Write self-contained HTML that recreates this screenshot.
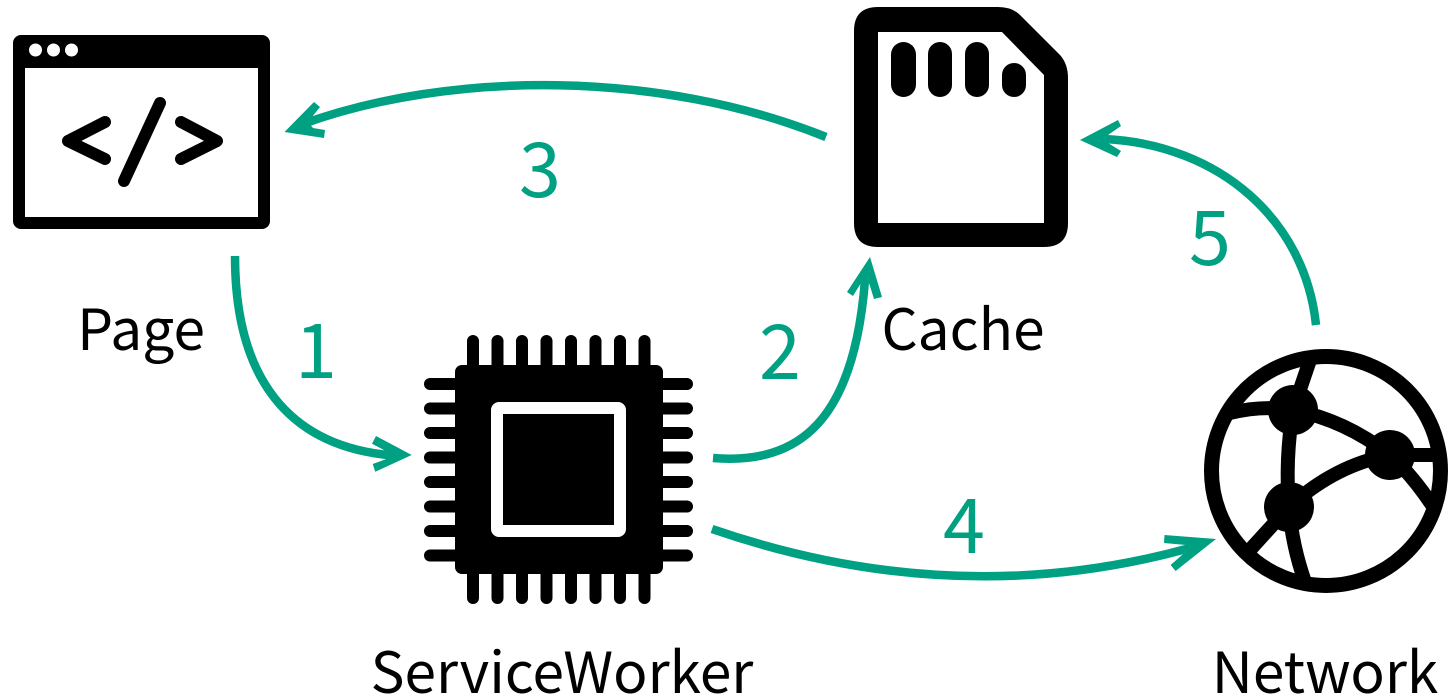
<!DOCTYPE html>
<html><head><meta charset="utf-8"><style>
html,body{margin:0;padding:0;background:#fff;width:1453px;height:700px;overflow:hidden}
svg{display:block}
text{font-family:"Noto Sans CJK JP","Liberation Sans",sans-serif}
.l{font-size:56.800px;fill:#000;text-anchor:middle}
.n{font-size:75.500px;fill:#00a082;text-anchor:middle}
.a{fill:none;stroke:#00a082;stroke-width:8.500}
.h{fill:#00a082}
</style></head><body>
<svg width="1453" height="700" viewBox="0 0 1453 700" xmlns="http://www.w3.org/2000/svg">
<!-- Page -->
<path fill-rule="evenodd" d="M21 35H262a8 8 0 0 1 8 8V221a8 8 0 0 1-8 8H21a8 8 0 0 1-8-8V43a8 8 0 0 1 8-8ZM25 68V217H258V68Z"/>
<g fill="#fff"><circle cx="35.500" cy="50" r="6.500"/><circle cx="53.500" cy="50" r="6.500"/><circle cx="71.500" cy="50" r="6.500"/></g>
<g fill="none" stroke="#000" stroke-width="12" stroke-linecap="round" stroke-linejoin="round">
<path d="M105 122L68 141L105 159"/><path d="M160 103L124 181"/><path d="M181 122L217 141L181 159"/>
</g>
<!-- Cache -->
<path fill-rule="evenodd" d="M878 7H998Q1012 7 1020 15L1060 55Q1068 64 1068 78V223Q1068 247 1044 247H878Q854 247 854 223V31Q854 7 878 7ZM878 32V223H1044V75L1002 32Z"/>
<g><rect x="891" y="42" width="25" height="55" rx="12.500"/><rect x="928" y="42" width="24" height="55" rx="12"/><rect x="965" y="42" width="24" height="55" rx="12"/><rect x="1002" y="63" width="24" height="34" rx="12"/></g>
<!-- Chip -->
<rect x="455" y="365" width="208" height="209" rx="7"/>
<g stroke="#000" stroke-width="12" stroke-linecap="round">
<path d="M473 341V380M497.500 341V380M522 341V380M546.500 341V380M571 341V380M595.500 341V380M620 341V380M644.500 341V380"/>
<path d="M473 598V560M497.500 598V560M522 598V560M546.500 598V560M571 598V560M595.500 598V560M620 598V560M644.500 598V560"/>
<path d="M430 384H470M430 408.500H470M430 433H470M430 457.500H470M430 482H470M430 506.500H470M430 531H470M430 555.500H470"/>
<path d="M687 384H650M687 408.500H650M687 433H650M687 457.500H650M687 482H650M687 506.500H650M687 531H650M687 555.500H650"/>
</g>
<rect x="497" y="408" width="123" height="123" rx="2" fill="#000" stroke="#fff" stroke-width="12" stroke-linejoin="round"/>
<!-- Network -->
<circle cx="1326" cy="471" r="114.500" fill="none" stroke="#000" stroke-width="15"/>
<g fill="none" stroke="#000" stroke-width="14">
<path d="M1293 410L1310 360"/>
<path d="M1293 410Q1262 405 1230 413"/>
<path d="M1293 410Q1285 460 1289 507"/>
<path d="M1293 410Q1345 420 1390 455"/>
<path d="M1289 507Q1335 465 1390 455"/>
<path d="M1390 455H1436"/>
<path d="M1390 455Q1412 475 1432 505"/>
<path d="M1289 507L1248 552"/>
<path d="M1289 507Q1292 545 1305 582"/>
</g>
<g><circle cx="1293" cy="410" r="25"/><circle cx="1390" cy="455" r="25"/><circle cx="1289" cy="507" r="25"/></g>
<!-- Arrows -->
<path class="a" d="M235 256C235 380 290 445 388 455"/>
<polygon class="h" points="411.700,455 376,436 372,443.700 385.700,451 385.700,459.300 372.700,464 375.300,471.700"/>
<path class="a" d="M713 458C800 465 854 420 865 280"/>
<polygon class="h" points="870,257 847,292 853,296 861,283 869,283 874,299 882,297"/>
<path class="a" d="M826 137C660 70 450 70 300 125"/>
<polygon class="h" points="284.500,132 314,102 320,107 308,122 313,128 325,130 324,138"/>
<path class="a" d="M712 529C860 580 1020 595 1190 548"/>
<polygon class="h" points="1216,539 1164.500,535 1164,543 1186,545 1185.500,552 1170.600,565 1175.600,571"/>
<path class="a" d="M1316 325C1305 220 1220 145 1105 139"/>
<polygon class="h" points="1080,140 1118,120 1121,126 1108,135 1108,143 1121,151 1117,157"/>
<!-- Labels -->
<text class="l" x="141" y="350">Page</text>
<text class="l" x="963" y="350">Cache</text>
<text class="l" x="562" y="693">ServiceWorker</text>
<text class="l" x="1325" y="693">Network</text>
<text class="n" x="316" y="378">1</text>
<text class="n" x="780" y="379">2</text>
<text class="n" x="540" y="197">3</text>
<text class="n" x="964" y="553">4</text>
<text class="n" x="1210" y="265">5</text>
</svg>
</body></html>
